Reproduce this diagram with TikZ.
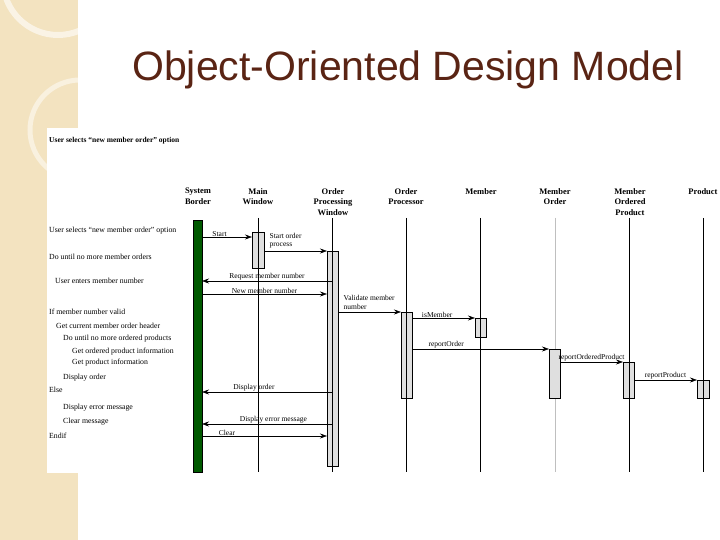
\documentclass[tikz,border=0pt]{standalone}
\usepackage{fontspec}
\setmainfont{Liberation Serif}
\newfontfamily\titlefont{Liberation Sans}
\usetikzlibrary{arrows.meta}
\definecolor{beige}{HTML}{F3E3C0}
\definecolor{titlec}{HTML}{5A2414}
\begin{document}
\begin{tikzpicture}[x=1pt,y=-1pt,
  hdr/.style={font=\fontsize{8.5}{10.5}\selectfont\bfseries,align=center,anchor=north,inner sep=0pt},
  lbl/.style={font=\fontsize{7.5}{8.5}\selectfont,inner sep=0.5pt},
  side/.style={font=\fontsize{7.8}{9}\selectfont,anchor=west,inner sep=0pt},
  life/.style={line width=0.6pt},
  act/.style={draw,fill=gray!25,line width=0.6pt},
  msg/.style={-{Stealth[length=7pt,width=5pt]},line width=0.6pt}]
\useasboundingbox (0,0) rectangle (720,540);
% background
\fill[white] (0,0) rectangle (720,540);
\fill[beige] (0,0) rectangle (78,540);
\draw[white,line width=6pt,opacity=0.6] (58,-20) circle (55);
\draw[white,line width=5pt,opacity=0.5] (80,130) circle (50);
\fill[white] (47,128) rectangle (720,473);
\node[font=\titlefont\fontsize{41}{46}\selectfont,text=titlec] (title) at (408,70) {Object-Oriented Design Model};
% side text
\node[side,font=\fontsize{7.5}{9}\selectfont\bfseries] (s0) at (49,141) {User selects “new member order” option};
\node[side] (s1) at (49,231) {User selects “new member order” option};
\node[side] (s2) at (49,257) {Do until no more member orders};
\node[side] (s3) at (55,281) {User enters member number};
\node[side] (s4) at (49,312) {If member number valid};
\node[side] (s5) at (56,326) {Get current member order header};
\node[side] (s6) at (63,339) {Do until no more ordered products};
\node[side] (s7) at (72,352) {Get ordered product information};
\node[side] (s8) at (72,363) {Get product information};
\node[side] (s9) at (63,378) {Display order};
\node[side] (s10) at (49,390) {Else};
\node[side] (s11) at (63,408) {Display error message};
\node[side] (s12) at (63,422) {Clear message};
\node[side] (s13) at (49,436) {Endif};
% headers
\node[hdr] (h1) at (198,188) {System\\Border};
\node[hdr] (h2) at (258,188) {Main\\Window};
\node[hdr] (h3) at (333,188) {Order\\Processing\\Window};
\node[hdr] (h4) at (406,188) {Order\\Processor};
\node[hdr] (h5) at (481,188) {Member};
\node[hdr] (h6) at (555,188) {Member\\Order};
\node[hdr] (h7) at (630,188) {Member\\Ordered\\Product};
\node[hdr] (h8) at (703,188) {Product};
% lifelines
\foreach \x in {258,332,406,480,629,703} \draw[life] (\x,218) -- (\x,472);
\draw[life,gray!50] (555,218) -- (555,472);
% activations
\fill[green!35!black] (193,220) rectangle (202,472);
\draw[line width=0.6pt] (193,220) rectangle (202,472);
\draw[act] (252,232) rectangle (264,268);
\draw[act] (327,251) rectangle (338,466);
\draw[act] (401,312) rectangle (412,398);
\draw[act] (475,318) rectangle (486,337);
\draw[act] (549,349) rectangle (560,398);
\draw[act] (623,362) rectangle (634,398);
\draw[act] (697,380) rectangle (709,398);
\foreach \x in {258,332,406,480,629,703} \draw[life] (\x,230) -- (\x,472);
% messages
\coordinate (a1) at (202,237); \coordinate (b1) at (252,237);
\draw[msg] (a1) -- (b1) node[lbl,pos=0.35,above] {Start};
\coordinate (a2) at (264,251); \coordinate (b2) at (327,251);
\draw[msg] (a2) -- (b2);
\node[lbl,anchor=south west,align=left] (t2) at (269,249) {Start order\\process};
\coordinate (a3) at (332,281); \coordinate (b3) at (202,281);
\draw[msg] (a3) -- (b3) node[lbl,midway,above] {Request member number};
\coordinate (a4) at (202,294); \coordinate (b4) at (327,294);
\draw[msg] (a4) -- (b4) node[lbl,midway,above] {New member number};
\coordinate (a5) at (338,312); \coordinate (b5) at (401,312);
\draw[msg] (a5) -- (b5);
\node[lbl,anchor=south west,align=left] (t5) at (343,310) {Validate member\\number};
\coordinate (a6) at (412,318); \coordinate (b6) at (475,318);
\draw[msg] (a6) -- (b6) node[lbl,pos=0.4,above] {isMember};
\coordinate (a7) at (412,349); \coordinate (b7) at (549,349);
\draw[msg] (a7) -- (b7) node[lbl,pos=0.25,above] {reportOrder};
\coordinate (a8) at (560,362); \coordinate (b8) at (623,362);
\draw[msg] (a8) -- (b8) node[lbl,midway,above] {reportOrderedProduct};
\coordinate (a9) at (634,380); \coordinate (b9) at (697,380);
\draw[msg] (a9) -- (b9) node[lbl,midway,above] {reportProduct};
\coordinate (a10) at (332,392); \coordinate (b10) at (202,392);
\draw[msg] (a10) -- (b10) node[lbl,pos=0.6,above] {Display order};
\coordinate (a11) at (332,424); \coordinate (b11) at (202,424);
\draw[msg] (a11) -- (b11) node[lbl,pos=0.45,above] {Display error message};
\coordinate (a12) at (202,436); \coordinate (b12) at (327,436);
\draw[msg] (a12) -- (b12) node[lbl,pos=0.2,above] {Clear};
\end{tikzpicture}
\end{document}
